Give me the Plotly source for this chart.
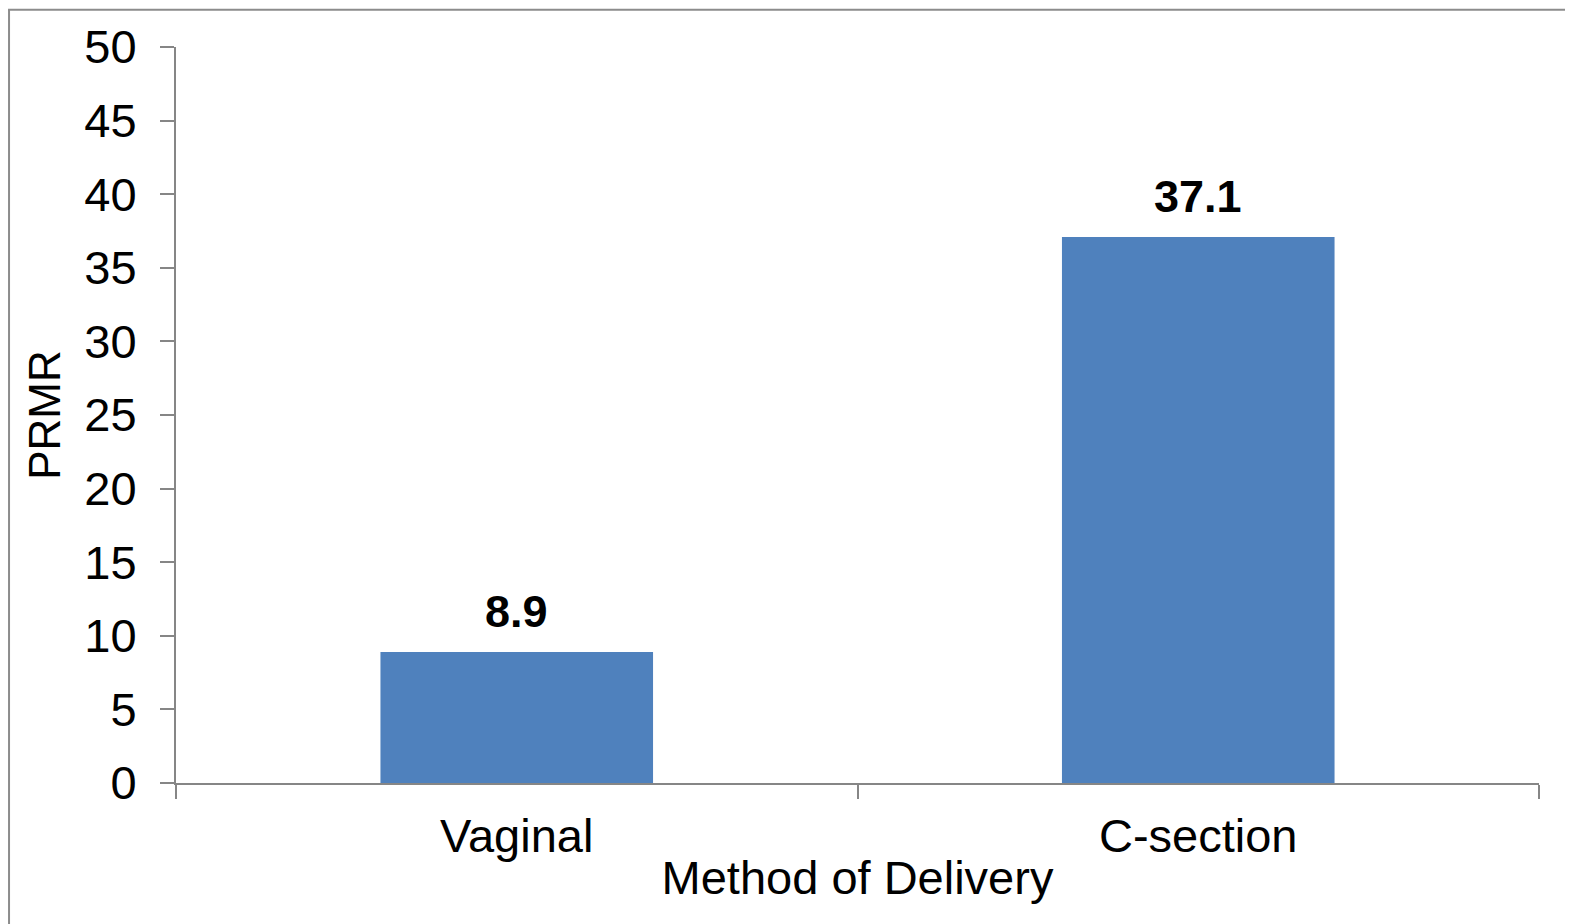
import plotly.graph_objects as go

# values
methods = ["Vaginal", "C-section"]
prmr = [8.9, 37.1]
labels = ["8.9", "37.1"]

BAR_BLUE = "#4f81bd"
AXIS_GREY = "#868686"
FONT = "Liberation Sans, Arial, sans-serif"

fig = go.Figure()
fig.add_trace(go.Bar(
    x=methods,
    y=prmr,
    marker=dict(color=BAR_BLUE, line=dict(width=0)),
    showlegend=False,
    hoverinfo="x+y",
))

# bold value labels above the bars
for m, v, t in zip(methods, prmr, labels):
    fig.add_annotation(
        x=m, y=v, text="<b>%s</b>" % t,
        showarrow=False, yanchor="bottom", yshift=13,
        font=dict(family=FONT, size=45, color="black"),
    )

# grey frame around the whole chart (right and bottom edges fall off the image)
fig.add_shape(
    type="rect", xref="paper", yref="paper",
    x0=-0.1225, x1=1.05, y0=-0.25, y1=1.0505,
    line=dict(color="#8c8c8c", width=2), layer="below",
)

# the page body adds 8px, margins account for it
fig.update_layout(
    width=1573,
    height=924,
    margin=dict(l=168, r=42, t=39, b=149),
    paper_bgcolor="white",
    plot_bgcolor="white",
    bargap=0.6,
    font=dict(family=FONT, size=47, color="black"),
    xaxis=dict(
        title=dict(text="Method of Delivery", font=dict(size=47), standoff=0),
        showline=True, linecolor=AXIS_GREY, linewidth=2,
        ticks="outside", tickson="boundaries", ticklen=14,
        tickcolor=AXIS_GREY, tickwidth=2,
        ticklabelstandoff=11,
        showgrid=False, zeroline=False,
        tickfont=dict(size=47),
    ),
    yaxis=dict(
        title=dict(text="PRMR", font=dict(size=44), standoff=10),
        range=[0, 50], dtick=5,
        showline=True, linecolor=AXIS_GREY, linewidth=2,
        ticks="outside", ticklen=14, tickcolor=AXIS_GREY, tickwidth=2,
        ticklabelstandoff=14,
        showgrid=False, zeroline=False,
        tickfont=dict(size=47),
    ),
)

fig.write_html("out.html")
